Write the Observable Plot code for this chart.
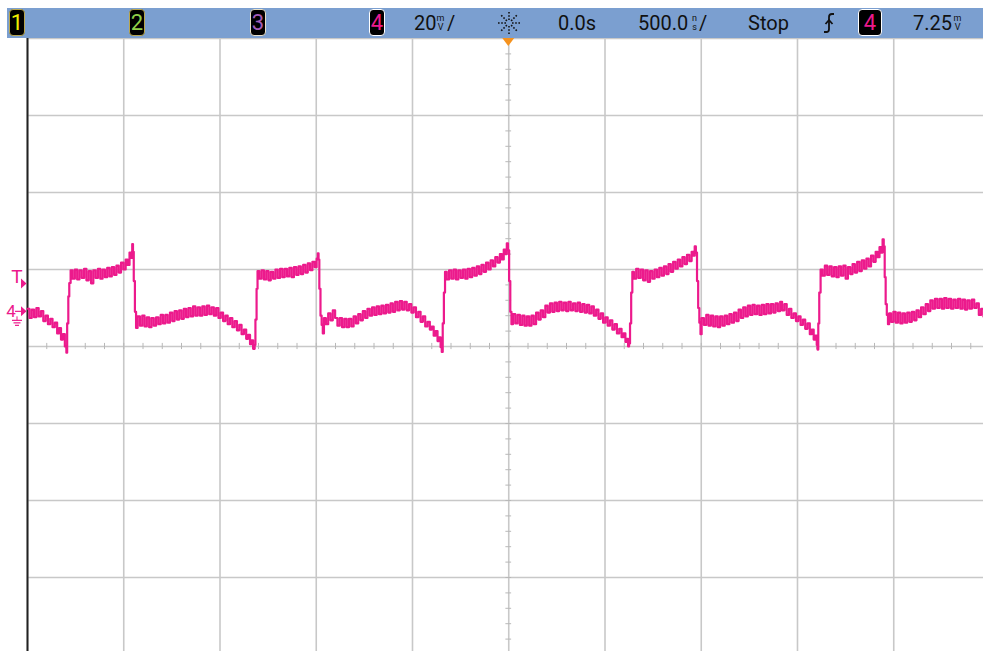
<!DOCTYPE html>
<html>
<head>
<meta charset="utf-8">
<script src="https://cdn.jsdelivr.net/npm/d3@7"></script>
<script src="https://cdn.jsdelivr.net/npm/@observablehq/plot@0.6"></script>
<style>
  html, body { margin: 0; padding: 0; background: #fff; }
  #wrap { width: 983px; position: relative; font-family: Roboto, "Liberation Sans", sans-serif; }
  #header { position: relative; height: 38px; }
  #bar { position: absolute; left: 7px; top: 8px; width: 976px; height: 30px; background: #7b9fd0; }
  .box { position: absolute; top: 1px; height: 25px; background: #000; border-radius: 4px;
         border: 1.5px solid #c9b25a; box-sizing: content-box; font-size: 22px; line-height: 25px;
         text-align: center; }
  .txt { position: absolute; top: 3px; height: 24px; line-height: 24px; font-size: 20px; color: #111; white-space: nowrap; }
  .unit { position: absolute; top: 6px; width: 9px; font-size: 9px; line-height: 9px; color: #111; text-align: center; }
  #chart svg { display: block; }
</style>
</head>
<body>
<div id="wrap">
  <div id="header"><div id="bar"></div></div>
  <div id="chart"></div>
</div>
<script>
// ---- header readouts ----
const channels = ["1", "2", "3", "4"];
const channelColors = ["#f2f000", "#8fd048", "#a45cb8", "#ec1a8c"];
const channelBorders = ["#b8a650", "#b8a650", "#e8e0c8", "#ffffff"];
const channelLeft = [2, 122, 243, 362];
const scaleText = "20";
const scaleUnit = ["m", "V"];
const timeOffsetText = "0.0s";
const timebaseText = "500.0";
const timebaseUnit = ["n", "s"];
const runState = "Stop";
const triggerChannel = "4";
const triggerLevelText = "7.25";
const triggerUnit = ["m", "V"];

// ---- scope settings ----
const voltsPerDiv = 20;        // mV / div
const nsPerDiv = 500;          // ns / div
const channelOffset = -9;      // mV at screen center
const triggerLevel = 7.25;     // mV
const timeDivs = [-5, 5];
const voltDivs = [-4, 4];

// ---- channel 4 trace: [time ns, voltage mV] ----
const trace = [
[-2500,0.8],[-2490,-1.6],[-2478,0.6],[-2466,-1.4],[-2454,1.0],[-2442,-1.2],[-2430,0.2],[-2418,-2.4],[-2406,-1.0],[-2394,-3.2],
[-2382,-1.8],[-2370,-4.0],[-2358,-2.8],[-2346,-5.6],[-2336,-4.2],[-2326,-7.2],[-2316,-5.8],[-2306,-9.0],[-2298,-10.6],
[-2294,-3],[-2288,4],[-2283,7.5],[-2276,10.8],
[-2266,8.6],[-2254,11.0],[-2242,8.4],[-2230,10.8],[-2218,8.8],[-2206,11.2],[-2194,8.2],[-2182,10.6],[-2170,7.4],[-2158,10.8],
[-2146,8.8],[-2134,11.2],[-2122,8.6],[-2110,11.0],[-2098,9.0],[-2086,11.4],[-2074,9.2],[-2062,11.6],[-2050,9.6],[-2038,12.0],
[-2026,10.2],[-2014,12.8],[-2002,11.0],[-1990,13.6],[-1980,12.2],[-1970,15.4],[-1962,14.0],[-1956,17.6],[-1952,15.6],
[-1948,8],[-1942,0],[-1936,-4.2],
[-1928,-1.2],[-1916,-3.6],[-1904,-1.0],[-1892,-3.8],[-1880,-1.4],[-1868,-4.0],[-1856,-1.6],[-1844,-3.6],[-1832,-1.4],[-1820,-3.2],
[-1808,-0.8],[-1796,-3.0],[-1784,-0.8],[-1772,-2.8],[-1760,-0.2],[-1748,-2.4],[-1736,0.2],[-1724,-2.0],[-1712,0.4],[-1700,-1.8],
[-1688,0.8],[-1676,-1.4],[-1664,1.0],[-1652,-1.2],[-1640,1.4],[-1628,-1.0],[-1616,1.2],[-1604,-1.0],[-1592,1.4],[-1580,-0.8],
[-1568,1.6],[-1556,-0.6],[-1544,1.2],[-1532,-1.0],[-1520,1.0],[-1508,-1.6],[-1496,-0.2],[-1484,-2.4],[-1472,-1.0],[-1460,-3.2],
[-1448,-1.6],[-1436,-4.0],[-1424,-2.4],[-1412,-4.8],[-1400,-3.4],[-1388,-5.8],[-1376,-4.6],[-1364,-7.0],[-1354,-6.0],[-1344,-8.4],
[-1336,-7.4],[-1328,-9.6],[-1320,-8.6],
[-1316,-2],[-1310,6],[-1305,10.6],
[-1296,8.6],[-1284,10.8],[-1272,8.4],[-1260,10.6],[-1248,8.2],[-1236,10.4],[-1224,8.6],[-1212,11.0],[-1200,8.8],[-1188,11.2],
[-1176,9.0],[-1164,11.2],[-1152,9.2],[-1140,11.4],[-1128,9.0],[-1116,11.6],[-1104,9.6],[-1092,11.8],[-1080,9.8],[-1068,12.2],
[-1056,10.2],[-1044,12.6],[-1032,10.8],[-1020,13.0],[-1008,11.6],[-998,13.8],[-992,15.2],[-988,13.6],
[-984,6],[-978,-1],[-972,-3.4],[-966,-5.6],[-960,-1.6],
[-950,-3.2],[-938,-0.4],[-926,-2.2],[-914,0.4],[-902,-1.6],[-890,-3.6],[-878,-1.6],[-866,-4.0],[-854,-1.8],[-842,-4.0],
[-830,-1.8],[-818,-3.8],[-806,-1.2],[-794,-3.0],[-782,-0.6],[-770,-2.2],[-758,0.2],[-746,-1.6],[-734,0.8],[-722,-1.0],
[-710,1.2],[-698,-0.8],[-686,1.4],[-674,-0.6],[-662,1.6],[-650,-0.4],[-638,1.8],[-626,-0.2],[-614,2.2],[-602,0.0],
[-590,2.6],[-578,0.4],[-566,2.8],[-554,0.6],[-542,2.6],[-530,0.4],[-518,2.0],[-506,-0.2],[-494,1.2],[-482,-1.4],
[-470,0.0],[-458,-2.6],[-446,-1.2],[-434,-3.8],[-422,-2.6],[-410,-4.6],[-400,-3.8],[-390,-6.2],[-380,-5.0],[-370,-7.6],
[-362,-6.6],[-354,-9.2],[-348,-10.4],
[-343,-3],[-337,5],[-331,10.4],
[-322,8.4],[-310,10.8],[-298,8.6],[-286,11.0],[-274,8.4],[-262,10.8],[-250,8.8],[-238,11.0],[-226,8.6],[-214,11.2],
[-202,9.0],[-190,11.4],[-178,9.4],[-166,11.8],[-154,9.8],[-142,12.2],[-130,10.4],[-118,12.8],[-106,11.0],[-94,13.4],
[-82,11.8],[-70,14.2],[-58,12.8],[-46,15.0],[-36,13.6],[-26,16.2],[-18,15.0],[-10,17.8],[-4,16.0],
[2,8],[8,0],[14,-3.2],
[22,-0.6],[34,-3.0],[46,-0.8],[58,-3.4],[70,-1.0],[82,-3.6],[94,-1.2],[106,-3.6],[118,-1.0],[130,-3.2],
[142,-0.2],[154,-2.0],[166,0.4],[178,-1.4],[190,1.6],[202,-0.2],[214,2.2],[226,0.0],[238,2.4],[250,0.2],
[262,2.6],[274,0.4],[286,2.4],[298,0.2],[310,2.6],[322,0.4],[334,2.2],[346,0.2],[358,2.4],[370,0.0],
[382,2.0],[394,-0.2],[406,1.8],[418,-0.4],[430,1.4],[442,-1.0],[454,0.6],[466,-1.8],[478,-0.4],[490,-2.8],
[502,-1.4],[514,-3.6],[526,-2.2],[538,-4.6],[550,-3.2],[562,-5.6],[574,-4.4],[586,-6.6],[596,-5.6],[606,-7.8],
[614,-7.0],[620,-9.0],[625,-8.2],
[630,-3],[636,5],[642,10.4],
[650,8.6],[662,11.2],[674,8.8],[686,11.0],[698,8.2],[710,10.8],[722,7.8],[734,10.6],[746,8.6],[758,11.0],
[770,9.0],[782,11.4],[794,9.4],[806,11.8],[818,9.8],[830,12.4],[842,10.4],[854,13.0],[866,11.2],[878,13.6],
[890,11.8],[902,14.2],[914,12.4],[926,14.8],[938,13.2],[950,15.6],[960,14.6],[966,17.0],[972,15.4],
[978,8],[984,1],[990,-2.8],[996,-5.8],[1002,-1.6],
[1014,-3.4],[1026,-0.8],[1038,-3.6],[1050,-1.0],[1062,-3.8],[1074,-1.2],[1086,-4.0],[1098,-1.2],[1110,-3.6],[1122,-1.0],
[1134,-3.2],[1146,-0.6],[1158,-2.8],[1170,-0.2],[1182,-2.4],[1194,0.6],[1206,-1.6],[1218,1.2],[1230,-1.2],[1242,1.6],
[1254,-0.8],[1266,1.8],[1278,-0.6],[1290,1.6],[1302,-0.8],[1314,1.8],[1326,-0.6],[1338,2.0],[1350,-0.4],[1362,2.0],
[1374,-0.2],[1386,2.2],[1398,0.2],[1410,2.6],[1420,0.4],[1432,2.0],[1444,-0.8],[1456,0.8],[1468,-1.6],[1480,-0.4],
[1492,-2.4],[1504,-1.2],[1516,-3.4],[1528,-2.0],[1540,-4.4],[1552,-3.0],[1564,-5.8],[1574,-4.6],[1584,-7.2],[1592,-6.2],
[1600,-8.6],[1604,-9.8],
[1608,-3],[1613,5],[1620,11.0],
[1630,9.4],[1642,12.0],[1654,9.6],[1666,11.8],[1678,9.2],[1690,11.6],[1702,9.0],[1714,11.8],[1726,9.4],[1738,12.0],
[1750,8.6],[1762,11.6],[1774,9.8],[1786,12.4],[1798,10.2],[1810,13.0],[1822,10.6],[1834,13.4],[1846,11.2],[1858,13.8],
[1870,11.8],[1882,14.6],[1894,13.0],[1906,15.6],[1916,14.2],[1926,16.8],[1934,15.4],[1942,18.8],[1948,17.0],
[1953,9],[1958,2],[1964,-0.8],[1970,-3.2],[1976,-0.4],
[1986,-2.6],[1998,0.0],[2010,-2.8],[2022,-0.2],[2034,-3.0],[2046,-0.4],[2058,-2.8],[2070,-0.2],[2082,-2.6],[2094,0.0],
[2106,-2.2],[2118,0.4],[2130,-1.4],[2142,1.2],[2154,-0.6],[2166,2.0],[2178,0.2],[2190,3.0],[2202,0.8],[2214,3.4],
[2226,1.0],[2238,3.4],[2250,0.8],[2262,3.6],[2274,1.0],[2286,3.4],[2298,0.8],[2310,3.2],[2322,1.0],[2334,3.4],
[2346,0.8],[2358,3.2],[2370,0.6],[2382,3.0],[2394,0.8],[2406,3.2],[2418,1.0],[2430,2.2],[2442,-0.8],[2454,0.8],
[2466,-1.2],[2478,0.2]
];

// ---------------- header ----------------
const bar = document.getElementById("bar");
function addBox(label, color, border, left, width) {
  const b = document.createElement("div");
  b.className = "box";
  b.style.left = left + "px";
  b.style.width = width + "px";
  b.style.color = color;
  b.style.borderColor = border;
  b.textContent = label;
  bar.appendChild(b);
}
channels.forEach((c, i) => addBox(c, channelColors[i], channelBorders[i], channelLeft[i], 14));
function addText(text, left) {
  const t = document.createElement("div");
  t.className = "txt";
  t.style.left = left + "px";
  t.textContent = text;
  bar.appendChild(t);
  return t;
}
function addUnit(u, left) {
  const t = document.createElement("div");
  t.className = "unit";
  t.style.left = left + "px";
  t.innerHTML = u[0] + "<br>" + u[1];
  bar.appendChild(t);
}
addText(scaleText, 407);
addUnit(scaleUnit, 429);
addText("/", 440);
addText(timeOffsetText, 551);
addText(timebaseText, 631);
addUnit(timebaseUnit, 683);
addText("/", 692);
addText(runState, 741);
addBox(triggerChannel, channelColors[3], "#ffffff", 851, 22);
addText(triggerLevelText, 906);
addUnit(triggerUnit, 946);
// acquisition icon
const icon = document.createElementNS("http://www.w3.org/2000/svg", "svg");
icon.setAttribute("width", 26); icon.setAttribute("height", 26);
icon.style.position = "absolute"; icon.style.left = "489px"; icon.style.top = "2px";
let s = "";
for (let k = 0; k < 8; k++) {
  const a = k * Math.PI / 4;
  s += `<line x1="${13 + 3 * Math.cos(a)}" y1="${13 + 3 * Math.sin(a)}" x2="${13 + 11 * Math.cos(a)}" y2="${13 + 11 * Math.sin(a)}" stroke="#111" stroke-width="1.6" stroke-dasharray="1.6 1.6"/>`;
}
icon.innerHTML = s;
bar.appendChild(icon);
// trigger slope icon
const slope = document.createElementNS("http://www.w3.org/2000/svg", "svg");
slope.setAttribute("width", 14); slope.setAttribute("height", 26);
slope.style.position = "absolute"; slope.style.left = "815px"; slope.style.top = "2px";
slope.innerHTML = `<path d="M2 22 H5 Q7 22 7 19 V7 Q7 4 10 4 H12" fill="none" stroke="#111" stroke-width="1.8"/>
<path d="M3.5 14 L7 10 L10.5 14" fill="none" stroke="#111" stroke-width="1.8"/>`;
bar.appendChild(slope);

// ---------------- plot ----------------
const xDomain = [timeDivs[0] * nsPerDiv, timeDivs[1] * nsPerDiv];
const yDomain = [channelOffset + voltDivs[0] * voltsPerDiv, channelOffset + voltDivs[1] * voltsPerDiv];
const timeGrid = d3.range(timeDivs[0], timeDivs[1] + 1).map(d => d * nsPerDiv);
const voltGrid = d3.range(voltDivs[0], voltDivs[1] + 1).map(d => channelOffset + d * voltsPerDiv);
const timeMinor = d3.range(timeDivs[0] * 5, timeDivs[1] * 5 + 1).map(d => d * nsPerDiv / 5);
const voltMinor = d3.range(voltDivs[0] * 5, voltDivs[1] * 5 + 1).map(d => channelOffset + d * voltsPerDiv / 5);
const pink = channelColors[3];
const gridColor = "#c8c8c8";

const data = trace.map(([t, v]) => ({t, v}));

function markers(index, scales, values, dim) {
  const g = d3.create("svg:g");
  const x0 = scales.x(xDomain[0]);
  const yT = scales.y(triggerLevel);
  const yG = scales.y(0);
  // trigger level marker
  g.append("path").attr("d", `M${x0 - 6},${yT - 5} L${x0 - 0.5},${yT} L${x0 - 6},${yT + 5} Z`).attr("fill", pink);
  g.append("text").attr("x", x0 - 10).attr("y", yT).attr("text-anchor", "middle")
    .attr("font-family", "Roboto, sans-serif").attr("font-size", 19).attr("fill", pink).text("T");
  // ground marker
  g.append("path").attr("d", `M${x0 - 6},${yG - 5} L${x0 - 0.5},${yG} L${x0 - 6},${yG + 5} Z`).attr("fill", pink);
  g.append("line").attr("x1", x0 - 12).attr("x2", x0 - 6).attr("y1", yG).attr("y2", yG).attr("stroke", pink).attr("stroke-width", 1.2);
  g.append("text").attr("x", x0 - 16).attr("y", yG + 6).attr("text-anchor", "middle")
    .attr("font-family", "Roboto, sans-serif").attr("font-size", 17).attr("fill", pink).text(triggerChannel);
  const gx = x0 - 10;
  g.append("line").attr("x1", gx).attr("x2", gx).attr("y1", yG + 5).attr("y2", yG + 9).attr("stroke", pink).attr("stroke-width", 1);
  [[5, 9], [3.5, 11.5], [2, 14]].forEach(([w, yy]) => {
    g.append("line").attr("x1", gx - w).attr("x2", gx + w).attr("y1", yG + yy).attr("y2", yG + yy).attr("stroke", pink).attr("stroke-width", 1.2);
  });
  // trigger position marker (orange)
  const xc = scales.x(0);
  const yTop = scales.y(yDomain[1]);
  g.append("path").attr("d", `M${xc - 6},${yTop} L${xc + 6},${yTop} L${xc},${yTop + 8} Z`).attr("fill", "#f5921e");
  return g.node();
}

const chart = Plot.plot({
  width: 983,
  height: 613,
  marginLeft: 0, marginRight: 0, marginTop: 0, marginBottom: 0,
  style: {background: "#fff", overflow: "visible"},
  x: {domain: xDomain, range: [27, 989.5], axis: null},
  y: {domain: yDomain, range: [616, 0], axis: null},
  marks: [
    Plot.ruleX(timeGrid, {stroke: gridColor, strokeWidth: 1.6}),
    Plot.ruleY(voltGrid, {x1: xDomain[0], x2: xDomain[1], stroke: gridColor, strokeWidth: 1.6, clip: true}),
    Plot.ruleX(timeMinor, {y1: channelOffset - 0.8, y2: channelOffset + 0.8, stroke: "#b8b8b8", strokeWidth: 1}),
    Plot.ruleY(voltMinor, {x1: -15, x2: 15, stroke: "#b8b8b8", strokeWidth: 1}),
    Plot.ruleX([xDomain[0]], {stroke: "#222", strokeWidth: 2}),
    Plot.line(data, {x: "t", y: "v", stroke: pink, strokeWidth: 2.2, curve: "step-after", clip: true}),
    markers
  ]
});
document.getElementById("chart").appendChild(chart);
</script>
</body>
</html>
